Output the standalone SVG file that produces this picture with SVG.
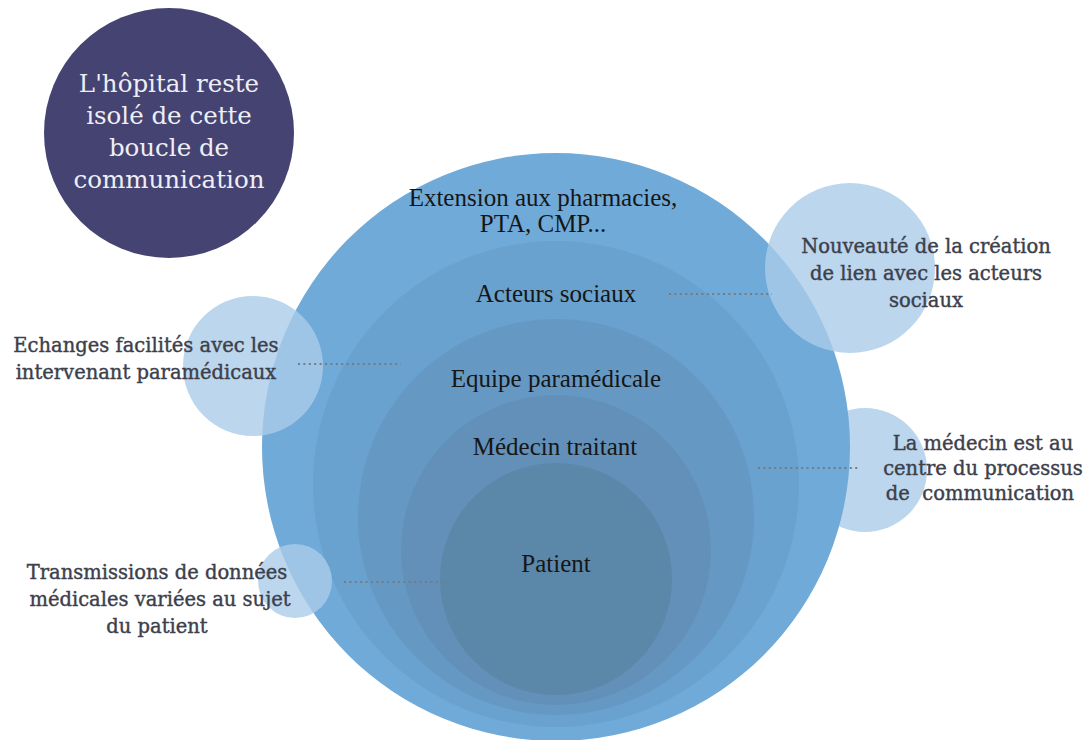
<svg xmlns="http://www.w3.org/2000/svg" width="1086" height="740" viewBox="0 0 1086 740">
<style>
.main{font-family:"Liberation Serif",serif;font-size:25px;fill:#161616;text-anchor:middle}
.side{font-family:"DejaVu Serif",serif;font-size:19.5px;fill:#3c404b;stroke:#3c404b;stroke-width:0.4;text-anchor:middle}
.hosp{font-family:"DejaVu Serif",serif;font-size:24.5px;fill:#eeeef5;text-anchor:middle}
.bubble{fill:#AACCE8;opacity:0.8}
.dot{stroke:#7a7a7a;stroke-width:2;stroke-dasharray:2 3.4;fill:none}
</style>
<rect width="1086" height="740" fill="#ffffff"/>
<g id="node-hopital">
<circle cx="169" cy="133" r="125" fill="#454372"/>
<text class="hosp" x="169" y="92">L'hôpital reste</text>
<text class="hosp" x="169" y="124">isolé de cette</text>
<text class="hosp" x="169" y="156">boucle de</text>
<text class="hosp" x="169" y="188">communication</text>
</g>
<g id="node-medecin-centre-bubble">
<circle cx="865" cy="470" r="62" fill="#BBD6ED"/>
</g>
<g id="node-extension">
<circle cx="556" cy="447" r="294" fill="#6FAAD9"/>
</g>
<g id="node-acteurs">
<circle cx="556" cy="484" r="243" fill="#69A1CF"/>
</g>
<g id="node-equipe">
<circle cx="556" cy="517" r="198" fill="#6599C4"/>
</g>
<g id="node-medecin">
<circle cx="556" cy="550" r="155" fill="#6290B8"/>
</g>
<g id="node-patient">
<circle cx="556" cy="579" r="116" fill="#5B87A9"/>
</g>
<g id="labels-main">
<text class="main" x="543" y="206">Extension aux pharmacies,</text>
<text class="main" x="543" y="232">PTA, CMP...</text>
<text class="main" x="556" y="302">Acteurs sociaux</text>
<text class="main" x="556" y="387">Equipe paramédicale</text>
<text class="main" x="555" y="455">Médecin traitant</text>
<text class="main" x="556" y="572">Patient</text>
</g>
<g id="node-nouveaute">
<circle class="bubble" cx="850" cy="268" r="85"/>
<text class="side" x="926" y="253">Nouveauté de la création</text>
<text class="side" x="926" y="280">de lien avec les acteurs</text>
<text class="side" x="926" y="307">sociaux</text>
</g>
<g id="node-echanges">
<circle class="bubble" cx="253" cy="366" r="70"/>
<text class="side" x="146" y="352">Echanges facilités avec les</text>
<text class="side" x="146" y="379">intervenant paramédicaux</text>
</g>
<g id="node-transmissions">
<circle class="bubble" cx="295" cy="581" r="37"/>
<text class="side" x="157" y="579">Transmissions de données</text>
<text class="side" x="160" y="606">médicales variées au sujet</text>
<text class="side" x="157" y="633">du patient</text>
</g>
<g id="node-medecin-centre">
<text class="side" x="983" y="450">La médecin est au</text>
<text class="side" x="983" y="475">centre du processus</text>
<text class="side" x="980" y="500" xml:space="preserve">de  communication</text>
</g>
<g id="connectors">
<line class="dot" x1="669" y1="294" x2="772" y2="294"/>
<line class="dot" x1="298" y1="364" x2="401" y2="364"/>
<line class="dot" x1="758" y1="468" x2="860" y2="468"/>
<line class="dot" x1="344" y1="582" x2="447" y2="582"/>
</g>
</svg>
